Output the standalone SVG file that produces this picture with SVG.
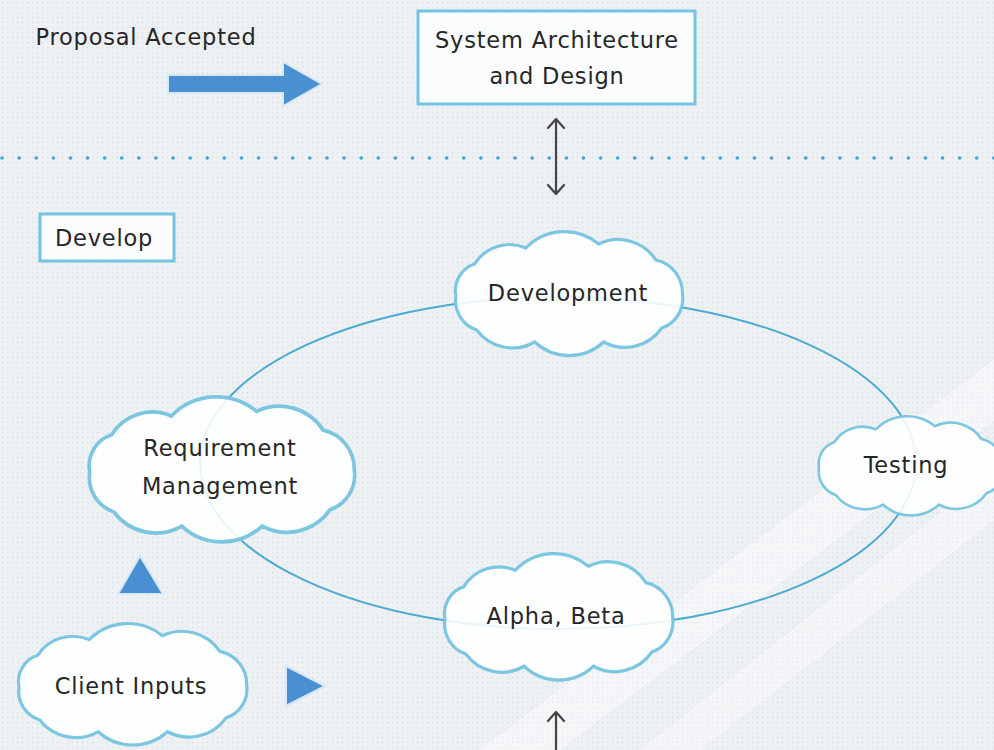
<svg xmlns="http://www.w3.org/2000/svg" width="994" height="750" viewBox="0 0 994 750">
<style>
.t{font-family:"DejaVu Sans","Liberation Sans",sans-serif;font-size:22.5px;letter-spacing:0.8px;fill:#262626;text-anchor:middle}
.cloud{fill:#ffffff;fill-opacity:0.88;stroke:#7cc6e2;stroke-width:3.2;vector-effect:non-scaling-stroke}
.box{fill:#fafcfd;stroke:#74c3e0;stroke-width:3}
.blue{fill:#4a8fd2;stroke:#d6e8f6;stroke-width:2}
.dark{fill:none;stroke:#444;stroke-width:2.2;stroke-linecap:round;stroke-linejoin:round}
</style>
<defs>
<pattern id="dots" width="5" height="5" patternUnits="userSpaceOnUse">
<rect width="5" height="5" fill="#eef1f4"/>
<rect x="2" y="2" width="1.2" height="1.2" fill="#d9dde2"/>
</pattern>
<path id="cl" d="M5,66 A28,28 0 0 1 24,34 A42,42 0 0 1 76,18 A55,55 0 0 1 150,14 A46,46 0 0 1 208,30 A34,34 0 0 1 235,64 A31,31 0 0 1 214,98 A46,46 0 0 1 155,112 A52,52 0 0 1 85,112 A46,46 0 0 1 26,100 A31,31 0 0 1 5,66 Z"/>
</defs>
<rect width="994" height="750" fill="url(#dots)"/>
<polygon points="994,360 994,420 560,750 480,750" fill="#ffffff" opacity="0.35"/>
<polygon points="994,470 994,520 700,750 640,750" fill="#ffffff" opacity="0.3"/>
<line x1="2" y1="158" x2="994" y2="158" stroke="#3aa6d0" stroke-width="3.5" stroke-dasharray="0.1 17" stroke-linecap="round"/>

<g id="connectors">
<ellipse cx="558" cy="463" rx="358" ry="166" fill="none" stroke="#4aaad2" stroke-width="2"/>
<path class="dark" d="M556,120 L556,193 M548,128 L556,119 L564,128 M548,185 L556,194 L564,185"/>
<path class="dark" d="M556,712 L556,750 M548,721 L556,712 L564,721"/>
<polygon class="blue" points="168,75 283,75 283,62 322,84 283,106 283,93 168,93"/>
<polygon class="blue" points="118,594 163,594 140,556"/>
<polygon class="blue" points="286,666 286,706 325,686"/>
</g>

<g id="proposal"><text class="t" x="146" y="45">Proposal Accepted</text></g>
<g id="sysarch">
<rect class="box" x="418" y="11" width="277" height="93"/>
<text class="t" x="557" y="48">System Architecture</text>
<text class="t" x="557" y="84">and Design</text>
</g>
<g id="develop">
<rect class="box" x="40" y="214" width="134" height="47"/>
<text class="t" x="104" y="246">Develop</text>
</g>
<g id="development">
<use href="#cl" class="cloud" transform="translate(451,230) scale(0.985,1.0)"/>
<text class="t" x="568" y="301">Development</text>
</g>
<g id="requirement">
<use href="#cl" class="cloud" transform="translate(84,395) scale(1.15,1.17)"/>
<text class="t" x="220" y="456">Requirement</text>
<text class="t" x="220" y="494">Management</text>
</g>
<g id="testing">
<use href="#cl" class="cloud" transform="translate(815,415) scale(0.8,0.8)"/>
<text class="t" x="906" y="473">Testing</text>
</g>
<g id="alphabeta">
<use href="#cl" class="cloud" transform="translate(440,552) scale(0.99,1.02)"/>
<text class="t" x="556" y="624">Alpha, Beta</text>
</g>
<g id="client">
<use href="#cl" class="cloud" transform="translate(14,622) scale(0.99,0.98)"/>
<text class="t" x="131" y="694">Client Inputs</text>
</g>
</svg>
